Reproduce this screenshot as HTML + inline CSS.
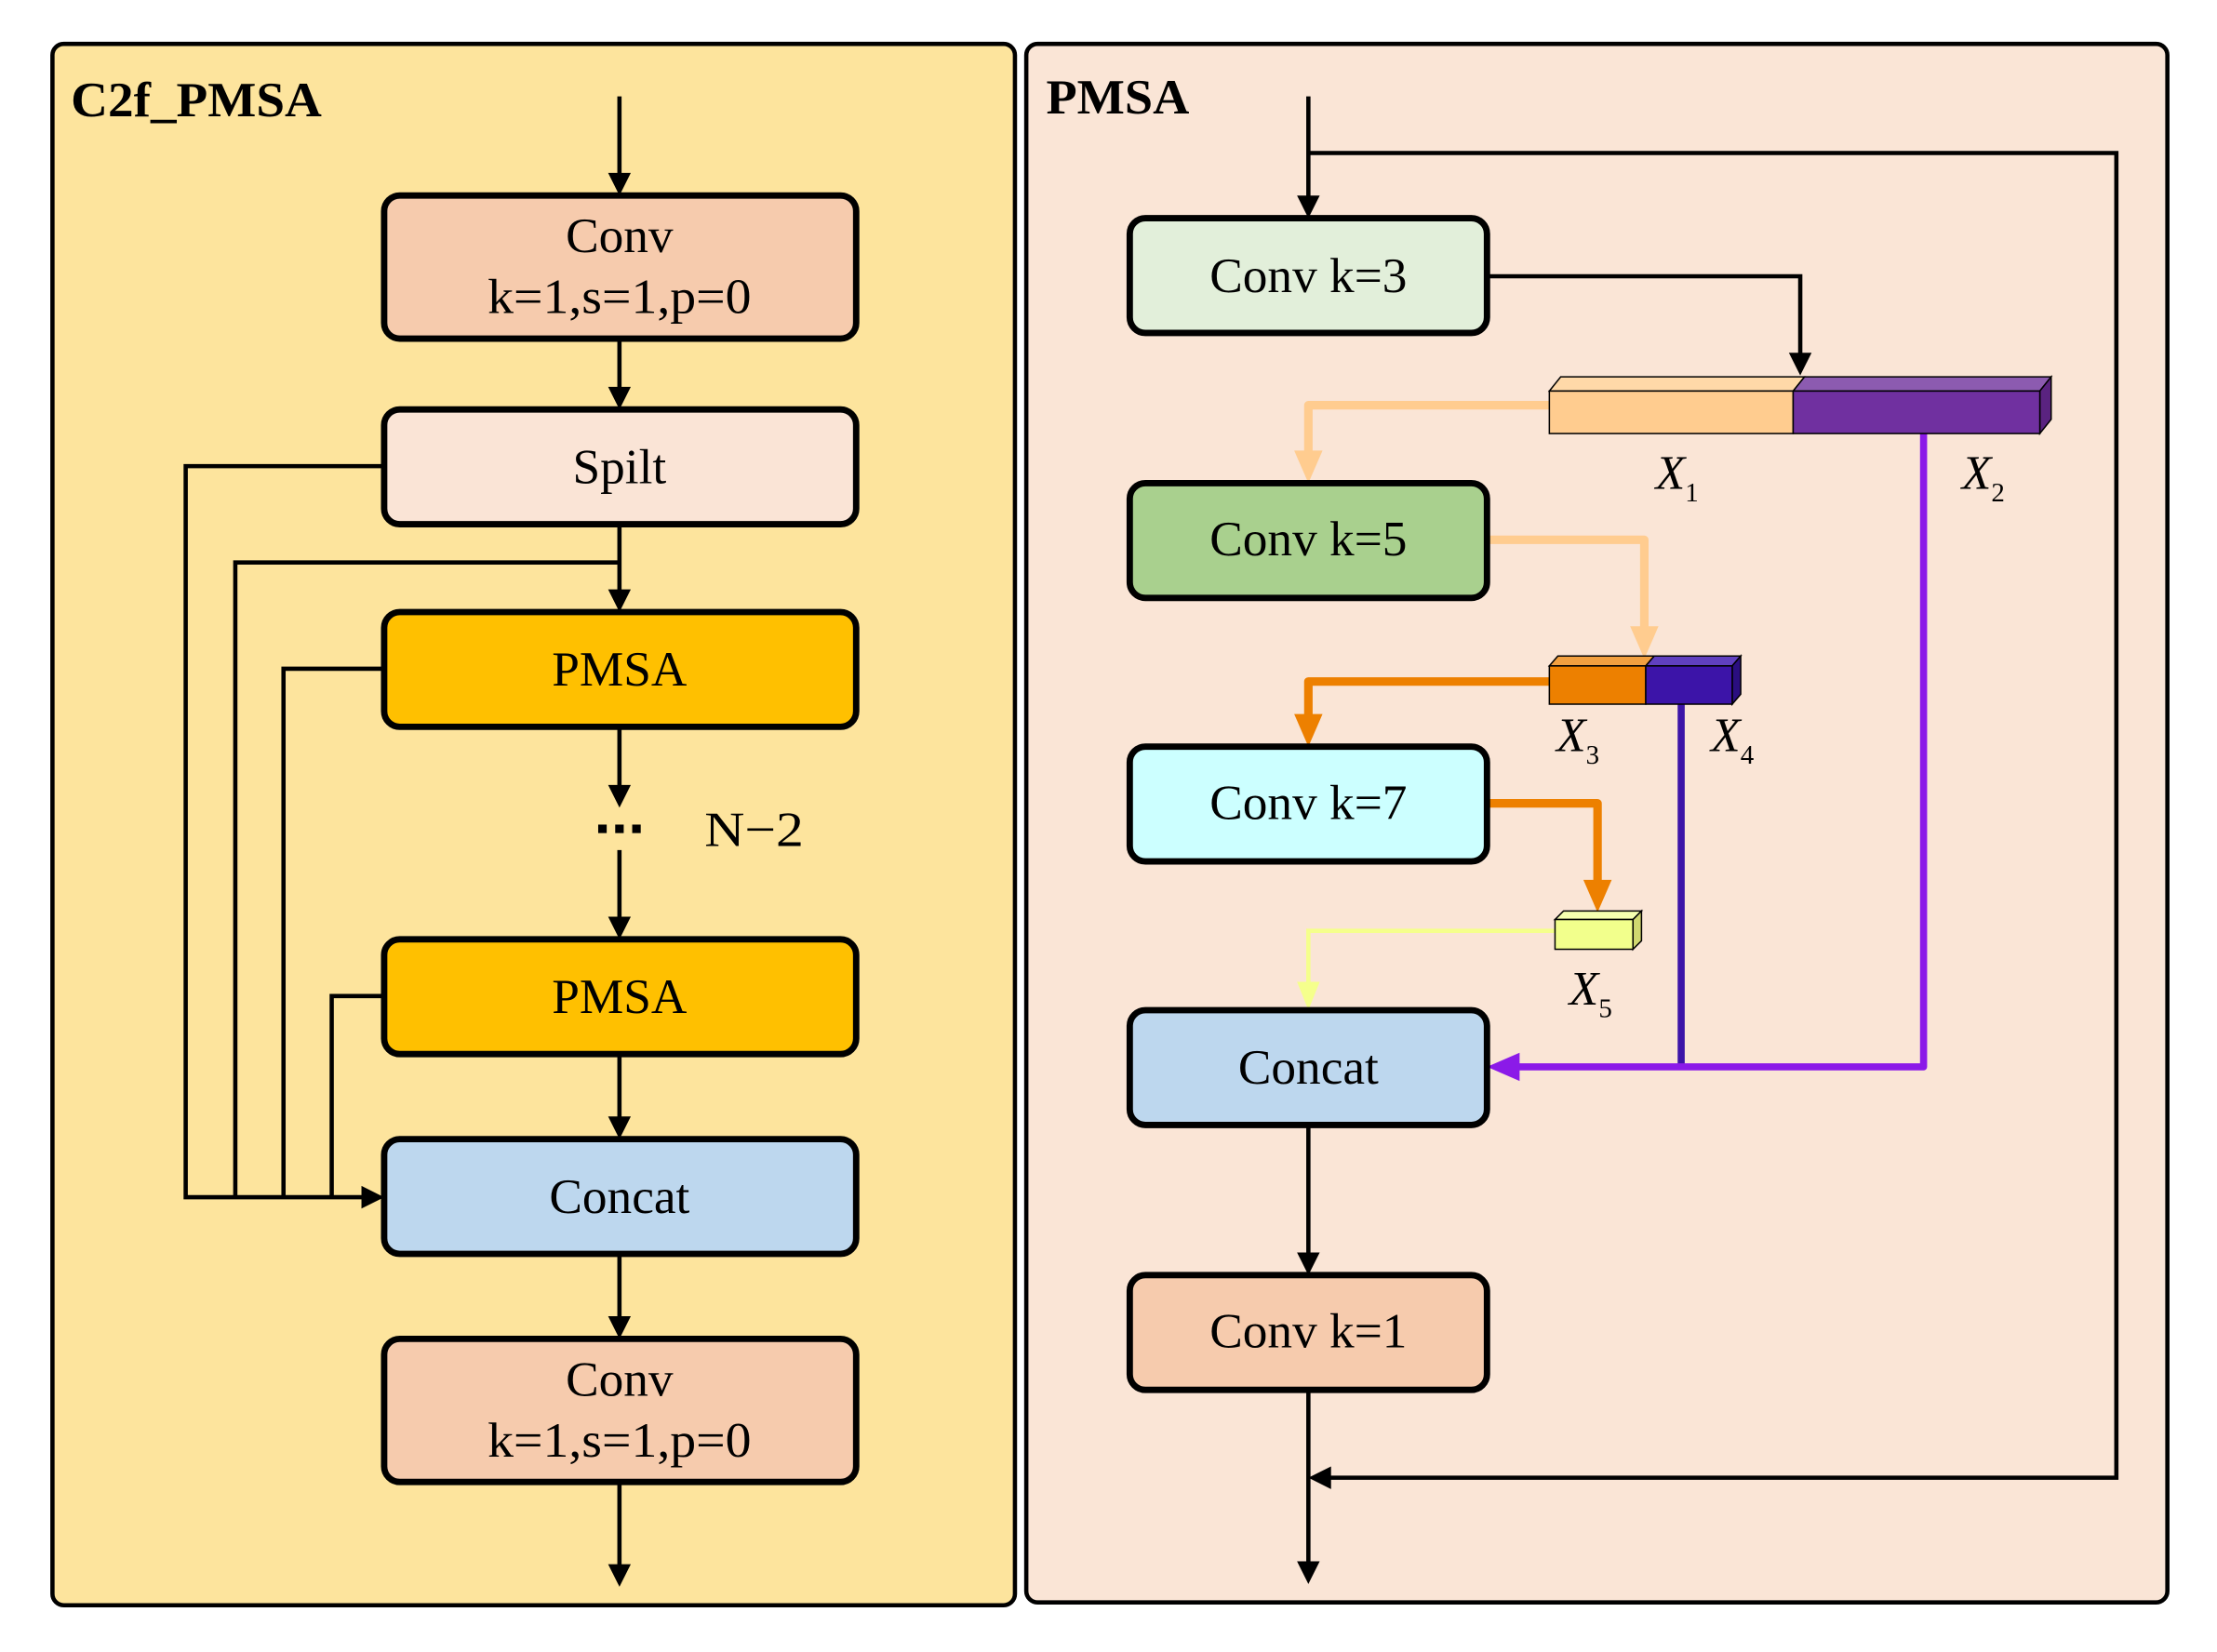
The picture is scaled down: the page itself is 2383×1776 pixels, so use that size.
<!DOCTYPE html>
<html><head><meta charset="utf-8"><style>html,body{margin:0;padding:0;background:#fff}svg{display:block}</style></head>
<body>
<svg width="2383" height="1776" viewBox="0 0 1564 1166" preserveAspectRatio="none" xmlns="http://www.w3.org/2000/svg" font-family="Liberation Serif, serif">
<rect x="37" y="31" width="679" height="1102" rx="8" fill="#FDE49D" stroke="#000" stroke-width="3"/>
<rect x="724" y="31" width="805" height="1100" rx="8" fill="#FAE5D6" stroke="#000" stroke-width="3"/>
<text x="50" y="82" font-size="35" font-weight="bold" textLength="177" lengthAdjust="spacingAndGlyphs">C2f_PMSA</text>
<text x="738" y="80" font-size="35" font-weight="bold" textLength="101" lengthAdjust="spacingAndGlyphs">PMSA</text>

<g stroke="#000" stroke-width="3" fill="none">
<polyline points="271,329 131,329 131,845 256,845"/>
<polyline points="437,397 166,397 166,845"/>
<polyline points="271,472 200,472 200,845"/>
<polyline points="271,703 234,703 234,845"/>
<line x1="437" y1="68" x2="437" y2="124"/>
<line x1="437" y1="239" x2="437" y2="275"/>
<line x1="437" y1="370" x2="437" y2="418"/>
<line x1="437" y1="513" x2="437" y2="556"/>
<line x1="437" y1="600" x2="437" y2="649"/>
<line x1="437" y1="744" x2="437" y2="790"/>
<line x1="437" y1="885" x2="437" y2="931"/>
<line x1="437" y1="1046" x2="437" y2="1106"/>
</g>
<g fill="#000">
<path d="M429,122 L445,122 L437,138z"/>
<path d="M429,273 L445,273 L437,289z"/>
<path d="M429,416 L445,416 L437,432z"/>
<path d="M429,554 L445,554 L437,570z"/>
<path d="M429,647 L445,647 L437,663z"/>
<path d="M429,788 L445,788 L437,804z"/>
<path d="M429,929 L445,929 L437,945z"/>
<path d="M429,1104 L445,1104 L437,1120z"/>
<path d="M255,837 L255,853 L271,845z"/>
<rect x="422" y="582" width="6" height="6"/><rect x="434" y="582" width="6" height="6"/><rect x="446" y="582" width="6" height="6"/>
</g>
<text x="497" y="597" font-size="35" textLength="70" lengthAdjust="spacingAndGlyphs">N−2</text>

<g stroke="#000" stroke-width="4.5">
<rect x="271" y="138" width="333" height="101" rx="11" fill="#F6CBAD"/>
<rect x="271" y="289" width="333" height="81" rx="11" fill="#FAE4D6"/>
<rect x="271" y="432" width="333" height="81" rx="11" fill="#FFC000"/>
<rect x="271" y="663" width="333" height="81" rx="11" fill="#FFC000"/>
<rect x="271" y="804" width="333" height="81" rx="11" fill="#BDD7EE"/>
<rect x="271" y="945" width="333" height="101" rx="11" fill="#F6CBAD"/>
</g>
<g font-size="35" text-anchor="middle">
<text x="437" y="178">Conv</text>
<text x="437" y="221" textLength="186" lengthAdjust="spacingAndGlyphs">k=1,s=1,p=0</text>
<text x="437" y="341">Spilt</text>
<text x="437" y="484">PMSA</text>
<text x="437" y="715">PMSA</text>
<text x="437" y="856">Concat</text>
<text x="437" y="985">Conv</text>
<text x="437" y="1028" textLength="186" lengthAdjust="spacingAndGlyphs">k=1,s=1,p=0</text>
</g>

<g stroke="#000" stroke-width="3" fill="none">
<line x1="923" y1="68" x2="923" y2="140"/>
<polyline points="923,108 1493,108 1493,1043 938,1043"/>
<line x1="923" y1="980" x2="923" y2="1104"/>
<line x1="923" y1="794" x2="923" y2="886"/>
<polyline points="1049,195 1270,195 1270,251"/>
</g>
<g fill="#000">
<path d="M915,138 L931,138 L923,154z"/>
<path d="M1262,249 L1278,249 L1270,265z"/>
<path d="M939,1035 L939,1051 L923,1043z"/>
<path d="M915,1102 L931,1102 L923,1118z"/>
<path d="M915,884 L931,884 L923,900z"/>
</g>

<polyline points="1093,286 923,286 923,322" fill="none" stroke="#FFCC8F" stroke-width="6" stroke-linejoin="round"/>
<path d="M913,318 L933,318 L923,341z" fill="#FFCC8F"/>
<polyline points="1049,381 1160,381 1160,446" fill="none" stroke="#FFCC8F" stroke-width="6" stroke-linejoin="round" stroke-linecap="round"/>
<path d="M1150,442 L1170,442 L1160,465z" fill="#FFCC8F"/>
<polyline points="1093,481 923,481 923,508" fill="none" stroke="#ED8000" stroke-width="6" stroke-linejoin="round"/>
<path d="M913,504 L933,504 L923,527z" fill="#ED8000"/>
<polyline points="1049,567 1127,567 1127,625" fill="none" stroke="#ED8000" stroke-width="6" stroke-linejoin="round" stroke-linecap="round"/>
<path d="M1117,621 L1137,621 L1127,644z" fill="#ED8000"/>
<polyline points="1097,657 923,657 923,696" fill="none" stroke="#F5FF8C" stroke-width="3"/>
<path d="M915,693 L931,693 L923,713z" fill="#F5FF8C"/>
<line x1="1186" y1="497" x2="1186" y2="752" stroke="#3C14A8" stroke-width="5"/>
<polyline points="1357,306 1357,753 1068,753" fill="none" stroke="#8B1AE8" stroke-width="5" stroke-linejoin="round"/>
<path d="M1072,743 L1072,763 L1049,753z" fill="#8B1AE8"/>

<g stroke="#000" stroke-width="1">
<path d="M1093,276 L1101,266 L1273,266 L1265,276z" fill="#FFD9A8"/>
<path d="M1265,276 L1273,266 L1447,266 L1439,276z" fill="#8C5BB0"/>
<path d="M1439,276 L1447,266 L1447,296 L1439,306z" fill="#5A2380"/>
<rect x="1093" y="276" width="172" height="30" fill="#FFCC8F"/>
<rect x="1265" y="276" width="174" height="30" fill="#7030A0"/>
<path d="M1093,470 L1099,463 L1167,463 L1161,470z" fill="#F2A040"/>
<path d="M1161,470 L1167,463 L1228,463 L1222,470z" fill="#6040C0"/>
<path d="M1222,470 L1228,463 L1228,490 L1222,497z" fill="#2A0E80"/>
<rect x="1093" y="470" width="68" height="27" fill="#ED8000"/>
<rect x="1161" y="470" width="61" height="27" fill="#3C14A8"/>
<path d="M1097,649 L1103,643 L1158,643 L1152,649z" fill="#F5FFB0"/>
<path d="M1152,649 L1158,643 L1158,664 L1152,670z" fill="#D0D870"/>
<rect x="1097" y="649" width="55" height="21" fill="#F2FF8C"/>
</g>
<g font-size="34" font-style="italic">
<text x="1168" y="345">X<tspan font-size="19" font-style="normal" dy="9">1</tspan></text>
<text x="1384" y="345">X<tspan font-size="19" font-style="normal" dy="9">2</tspan></text>
<text x="1098" y="530">X<tspan font-size="19" font-style="normal" dy="9">3</tspan></text>
<text x="1207" y="530">X<tspan font-size="19" font-style="normal" dy="9">4</tspan></text>
<text x="1107" y="709">X<tspan font-size="19" font-style="normal" dy="9">5</tspan></text>
</g>

<g stroke="#000" stroke-width="4.5">
<rect x="797" y="154" width="252" height="81" rx="11" fill="#E2EFDA"/>
<rect x="797" y="341" width="252" height="81" rx="11" fill="#A9D08E"/>
<rect x="797" y="527" width="252" height="81" rx="11" fill="#CCFFFF"/>
<rect x="797" y="713" width="252" height="81" rx="11" fill="#BDD7EE"/>
<rect x="797" y="900" width="252" height="81" rx="11" fill="#F6CBAD"/>
</g>
<g font-size="35" text-anchor="middle">
<text x="923" y="206">Conv k=3</text>
<text x="923" y="392">Conv k=5</text>
<text x="923" y="578">Conv k=7</text>
<text x="923" y="765">Concat</text>
<text x="923" y="951">Conv k=1</text>
</g>
</svg>
</body></html>
